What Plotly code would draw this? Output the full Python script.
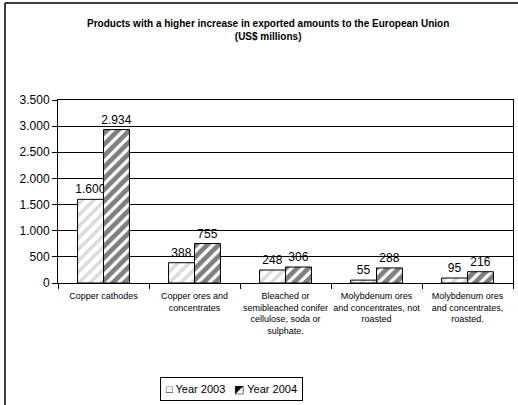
import plotly.graph_objects as go

categories = [
    "Copper cathodes",
    "Copper ores and<br>concentrates",
    "Bleached or<br>semibleached conifer<br>cellulose, soda or<br>sulphate.",
    "Molybdenum ores<br>and concentrates, not<br>roasted",
    "Molybdenum ores<br>and concentrates,<br>roasted.",
]
series_names = ["Year 2003", "Year 2004"]
year_2003 = [1600, 388, 248, 55, 95]
year_2004 = [2934, 755, 306, 288, 216]
y_ticks = [0, 500, 1000, 1500, 2000, 2500, 3000, 3500]

FONT = "Liberation Sans, Arial, sans-serif"

# plot area in pixels
L, R, T, B = 58, 5, 100, 122
W, H = 518, 405
pw, ph = W - L - R, H - T - B

def px(x):
    return (x - L) / pw

def py(y):
    return (H - B - y) / ph

fig = go.Figure()
fig.add_trace(go.Bar(
    name=series_names[0], x=categories, y=year_2003,
    marker=dict(color="white", line=dict(color="black", width=1),
                pattern=dict(shape="/", fgcolor="#b8b8b8", bgcolor="white", size=8, solidity=0.45)),
    texttemplate="%{y:,.0f}", textposition="outside", cliponaxis=False, constraintext="none",
    textfont=dict(size=12, color="black", family=FONT),
))
fig.add_trace(go.Bar(
    name=series_names[1], x=categories, y=year_2004,
    marker=dict(color="white", line=dict(color="black", width=1),
                pattern=dict(shape="/", fgcolor="#000000", bgcolor="white", size=8, solidity=0.6)),
    texttemplate="%{y:,.0f}", textposition="outside", cliponaxis=False, constraintext="none",
    textfont=dict(size=12, color="black", family=FONT),
))

legend_text = "\u25a1 " + series_names[0] + "   \u25e9 " + series_names[1]

fig.update_layout(
    width=W, height=H,
    margin=dict(l=L, r=R, t=T, b=B, pad=0, autoexpand=False),
    paper_bgcolor="white", plot_bgcolor="white",
    separators=",.",
    font=dict(family=FONT, color="black", size=12),
    barmode="group", bargap=0.43, bargroupgap=0,
    showlegend=False,
    annotations=[
        dict(
            text="<b>Products with a higher increase in exported amounts to the European Union<br>(US$ millions)</b>",
            xref="paper", yref="paper", x=px(268), y=py(30), xanchor="center", yanchor="middle",
            showarrow=False, font=dict(size=10, family=FONT, color="black"),
        ),
        dict(
            text=legend_text,
            xref="paper", yref="paper", x=px(231), y=py(388.5), xanchor="center", yanchor="middle",
            showarrow=False, font=dict(size=11, family=FONT, color="black"),
            bordercolor="black", borderwidth=1, borderpad=5, bgcolor="white",
        ),
    ],
    shapes=[
        dict(type="line", xref="paper", yref="paper",
             x0=px(5), x1=px(600), y0=py(3), y1=py(3),
             line=dict(color="black", width=1.5), layer="below"),
        dict(type="line", xref="paper", yref="paper",
             x0=px(5), x1=px(5), y0=py(3), y1=py(500),
             line=dict(color="black", width=1.5), layer="below"),
    ],
)
fig.update_xaxes(
    showline=True, linecolor="black", linewidth=1, mirror=True,
    ticks="outside", tickson="boundaries", ticklen=5, tickcolor="black",
    tickangle=0, automargin=False, ticklabelstandoff=4,
    tickfont=dict(size=9, family=FONT), showgrid=False,
)
fig.update_yaxes(
    range=[0, 3500], tickvals=y_ticks, tickformat=",.0f",
    showline=True, linecolor="black", linewidth=1, mirror=True,
    ticks="outside", ticklen=5, tickcolor="black", automargin=False,
    showgrid=True, gridcolor="black", gridwidth=1,
    tickfont=dict(size=12, family=FONT), zeroline=False,
)

fig.write_html("out.html", config={"displayModeBar": False},
               post_script="document.body.style.margin='0px';")
